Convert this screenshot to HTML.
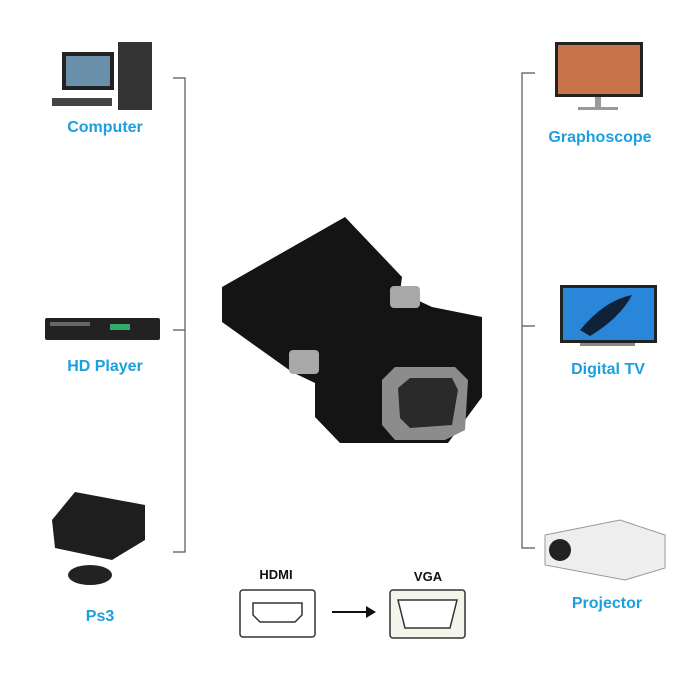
<!DOCTYPE html>
<html><head><meta charset="utf-8"><style>
body{margin:0;background:#fff;width:700px;height:700px;position:relative;overflow:hidden;font-family:"Liberation Sans",sans-serif}
.l{position:absolute;color:#1a9fe0;font-weight:bold;font-size:16px;text-align:center;width:160px}
.k{position:absolute;font-weight:bold;font-size:13px;color:#111;text-align:center;width:80px}
</style></head><body>
<svg width="700" height="700" style="position:absolute;left:0;top:0">
<g stroke="#555" stroke-width="1.2" fill="none">
<path d="M173 78H185V552H173M173 330H185"/>
<path d="M535 73H522V548H535M522 326H535"/>
</g>
<rect x="62" y="52" width="52" height="38" fill="#222"/><rect x="66" y="56" width="44" height="30" fill="#6a8fa8"/>
<rect x="118" y="42" width="34" height="68" fill="#333"/><rect x="52" y="98" width="60" height="8" fill="#444"/>
<rect x="45" y="318" width="115" height="22" rx="2" fill="#222"/><rect x="50" y="322" width="40" height="4" fill="#666"/><rect x="110" y="324" width="20" height="6" fill="#3a6"/>
<path d="M52 520L75 492L145 505L145 540L112 560L55 548Z" fill="#1e1e1e"/>
<ellipse cx="90" cy="575" rx="22" ry="10" fill="#222"/>
<rect x="555" y="42" width="88" height="55" fill="#222"/><rect x="558" y="45" width="82" height="49" fill="#c9734a"/><rect x="595" y="97" width="6" height="10" fill="#999"/><rect x="578" y="107" width="40" height="3" fill="#999"/>
<rect x="560" y="285" width="97" height="58" fill="#222"/><rect x="563" y="288" width="91" height="52" fill="#2a86d8"/><path d="M580 330Q605 300 632 295Q620 318 590 336Z" fill="#10223a"/><rect x="580" y="343" width="55" height="3" fill="#888"/>
<path d="M545 535L620 520L665 535L665 568L625 580L545 565Z" fill="#eee" stroke="#999"/><circle cx="560" cy="550" r="11" fill="#222"/>
<path d="M222 287L345 217L402 277L400 292L432 307L482 317L482 397L448 443L340 443L315 417L315 383L292 372L222 322Z" fill="#141414"/>
<rect x="390" y="286" width="30" height="22" rx="4" fill="#a8a8a8"/>
<rect x="289" y="350" width="30" height="24" rx="4" fill="#a8a8a8"/>
<path d="M382 380L395 367L455 367L468 380L465 430L445 440L395 440L382 425Z" fill="#8c8c8c"/>
<path d="M398 388L410 378L452 378L458 390L452 425L410 428L400 418Z" fill="#2a2a2a"/>
<rect x="240" y="590" width="75" height="47" rx="3" fill="#fff" stroke="#333" stroke-width="1.5"/>
<path d="M253 603H302V615L295 622H260L253 615Z" fill="none" stroke="#333" stroke-width="1.5"/>
<path d="M332 612H372" stroke="#111" stroke-width="2"/><path d="M366 606L376 612L366 618Z" fill="#111"/>
<rect x="390" y="590" width="75" height="48" rx="3" fill="#f4f4ea" stroke="#333" stroke-width="1.5"/>
<path d="M398 600H457L450 628H405Z" fill="#fff" stroke="#333" stroke-width="1.5"/>
</svg>
<div class="l" style="left:25px;top:119px">Computer</div>
<div class="l" style="left:25px;top:358px">HD Player</div>
<div class="l" style="left:20px;top:608px">Ps3</div>
<div class="l" style="left:520px;top:129px">Graphoscope</div>
<div class="l" style="left:528px;top:361px">Digital TV</div>
<div class="l" style="left:527px;top:595px">Projector</div>
<div class="k" style="left:236px;top:567px">HDMI</div>
<div class="k" style="left:388px;top:569px">VGA</div>
</body></html>
